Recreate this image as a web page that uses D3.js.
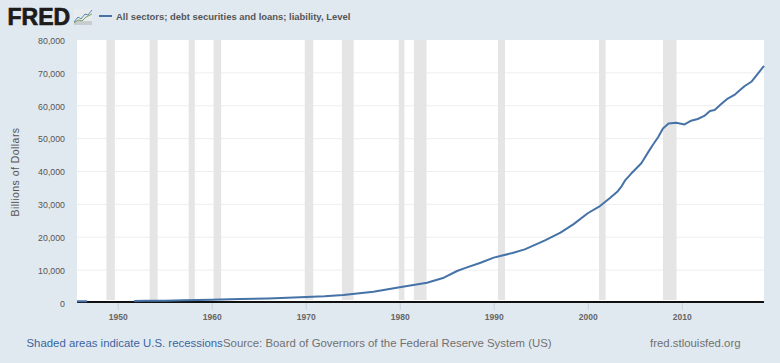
<!DOCTYPE html>
<html>
<head>
<meta charset="utf-8">
<script src="https://cdn.jsdelivr.net/npm/d3@7"></script>
<style>
  html, body { margin: 0; padding: 0; background: #e1e9f0; }
  text { font-family: "Liberation Sans", Arial, sans-serif; }
</style>
</head>
<body>
<div id="chart"></div>
<script>
const years = [1945.67, 1946.75, 1947, 1951.75, 1953, 1955, 1957, 1960, 1963, 1966, 1969.4, 1972, 1974, 1977.2, 1980, 1982.9, 1984.7, 1986.1, 1987, 1988.6, 1990, 1990.8, 1992, 1993.3, 1995.4, 1997.1, 1998.5, 2000, 2001.3, 2002.4, 2003.2, 2003.6, 2004, 2004.6, 2005.7, 2006.5, 2006.9, 2007.5, 2008, 2008.6, 2009.4, 2010.3, 2011, 2011.7, 2012.4, 2013, 2013.5, 2014.2, 2014.8, 2015.6, 2016.2, 2016.7, 2017.4, 2018.1, 2018.75];
const debt = [550, 550, null, 600, 650, 720, 820, 1000, 1180, 1400, 1730, 2050, 2430, 3440, 4770, 6180, 7700, 9730, 10700, 12260, 13800, 14400, 15200, 16300, 18950, 21400, 24000, 27300, 29500, 32000, 34000, 35500, 37400, 39300, 42500, 46200, 48000, 50500, 53100, 54600, 54850, 54300, 55450, 55970, 56900, 58400, 58700, 60500, 62000, 63300, 64800, 66000, 67300, 69800, 72100];

const recessionStart = [1948.8, 1953.4, 1957.55, 1960.2, 1969.9, 1973.85, 1979.9, 1981.5, 1990.45, 2001.2, 2008];
const recessionEnd = [1949.7, 1954.25, 1958.2, 1961, 1970.8, 1975.1, 1980.5, 1982.85, 1991.2, 2001.9, 2009.45];

const xTicks = [1950, 1960, 1970, 1980, 1990, 2000, 2010];
const yTicks = [0, 10000, 20000, 30000, 40000, 50000, 60000, 70000, 80000];

const seriesTitle = "All sectors; debt securities and loans; liability, Level";
const yTitle = "Billions of Dollars";

const width = 780, height = 363;
const margin = { top: 40, right: 16, bottom: 60, left: 77 };

const svg = d3.select("#chart").append("svg")
    .attr("width", width)
    .attr("height", height)
    .style("display", "block");

const xScale = d3.scaleLinear()
    .domain([1945.67, 2018.75])
    .range([margin.left, width - margin.right]);

const yScale = d3.scaleLinear()
    .domain([0, 80000])
    .range([height - margin.bottom, margin.top]);

// plot background
svg.append("rect")
    .attr("x", margin.left)
    .attr("y", margin.top)
    .attr("width", width - margin.left - margin.right)
    .attr("height", height - margin.top - margin.bottom - 1)
    .attr("fill", "#ffffff");

// grid
svg.append("g")
    .selectAll("line")
    .data(yTicks.slice(1, -1))
    .join("line")
    .attr("x1", margin.left)
    .attr("x2", width - margin.right)
    .attr("y1", d => yScale(d))
    .attr("y2", d => yScale(d))
    .attr("stroke", "#eeeeee")
    .attr("stroke-width", 1);

// recession bands
svg.append("g")
    .selectAll("rect")
    .data(recessionStart)
    .join("rect")
    .attr("x", d => xScale(d))
    .attr("width", (d, i) => xScale(recessionEnd[i]) - xScale(d))
    .attr("y", margin.top)
    .attr("height", yScale(0) - margin.top - 3)
    .attr("fill", "#e5e5e5");

// axes
const xAxis = svg.append("g")
    .attr("transform", `translate(0, ${yScale(0)})`)
    .call(d3.axisBottom(xScale).tickValues(xTicks).tickFormat(d3.format("d")).tickSize(7).tickSizeOuter(0));
xAxis.select(".domain").remove();
xAxis.selectAll("line").attr("stroke", "#c0d0e0");
xAxis.selectAll("text")
    .attr("y", 11)
    .attr("font-size", "8.5px")
    .attr("font-weight", "bold")
    .attr("fill", "#666666")
    .style("font-family", '"Liberation Sans", Arial, sans-serif');

const yAxis = svg.append("g")
    .attr("transform", `translate(${margin.left}, 0.5)`)
    .call(d3.axisLeft(yScale).tickValues(yTicks).tickFormat(d3.format(",")).tickSize(0).tickPadding(12));
yAxis.select(".domain").remove();
yAxis.selectAll("text")
    .attr("font-size", "8.8px")
    .attr("fill", "#555555")
    .style("font-family", '"Liberation Sans", Arial, sans-serif');

// baseline
svg.append("line")
    .attr("x1", margin.left)
    .attr("x2", width - margin.right)
    .attr("y1", yScale(0) - 1)
    .attr("y2", yScale(0) - 1)
    .attr("stroke", "#111111")
    .attr("stroke-width", 2);

// series line
const lineGenerator = d3.line()
    .defined(d => d !== null)
    .x((d, i) => xScale(years[i]))
    .y(d => yScale(d));

svg.append("path")
    .datum(debt)
    .attr("fill", "none")
    .attr("stroke", "#4572a7")
    .attr("stroke-width", 2)
    .attr("stroke-linejoin", "round")
    .attr("d", lineGenerator);

// y title
svg.append("text")
    .attr("transform", "translate(19, 172) rotate(-90)")
    .attr("text-anchor", "middle")
    .attr("font-size", "10.5px")
    .attr("letter-spacing", "0.45px")
    .attr("fill", "#555555")
    .text(yTitle);

// header: logo and legend
svg.append("text")
    .attr("x", 7.5)
    .attr("y", 24.5)
    .attr("font-size", "23px")
    .attr("font-weight", "bold")
    .attr("fill", "#1c1c1c")
    .attr("stroke", "#1c1c1c")
    .attr("stroke-width", 0.7)
    .text("FRED");

const logo = svg.append("g").attr("transform", "translate(74, 9)");
logo.append("rect").attr("width", 18).attr("height", 16).attr("fill", "#e8ecef");
logo.append("rect").attr("y", 12).attr("width", 18).attr("height", 4).attr("fill", "#c9cdd0");
logo.append("path")
    .attr("d", "M0,13 L4,8 L7,10 L11,5 L14,6 L18,1")
    .attr("fill", "none")
    .attr("stroke", "#5a86b5")
    .attr("stroke-width", 1);
logo.append("path")
    .attr("d", "M0,14 L4,11 L8,12 L12,8 L18,5")
    .attr("fill", "none")
    .attr("stroke", "#7d9e5a")
    .attr("stroke-width", 1);

svg.append("line")
    .attr("x1", 99)
    .attr("x2", 112)
    .attr("y1", 16)
    .attr("y2", 16)
    .attr("stroke", "#4572a7")
    .attr("stroke-width", 2);

svg.append("text")
    .attr("x", 116)
    .attr("y", 20)
    .attr("font-size", "9.45px")
    .attr("font-weight", "bold")
    .attr("fill", "#555555")
    .text(seriesTitle);

// footer
svg.append("text")
    .attr("x", 26.5)
    .attr("y", 347)
    .attr("font-size", "11.4px")
    .attr("fill", "#3a64a0")
    .text("Shaded areas indicate U.S. recessions");

svg.append("text")
    .attr("x", 223)
    .attr("y", 347)
    .attr("font-size", "11.4px")
    .attr("fill", "#707070")
    .text("Source: Board of Governors of the Federal Reserve System (US)");

svg.append("text")
    .attr("x", 650)
    .attr("y", 347)
    .attr("font-size", "11.4px")
    .attr("fill", "#707070")
    .text("fred.stlouisfed.org");
</script>
</body>
</html>
